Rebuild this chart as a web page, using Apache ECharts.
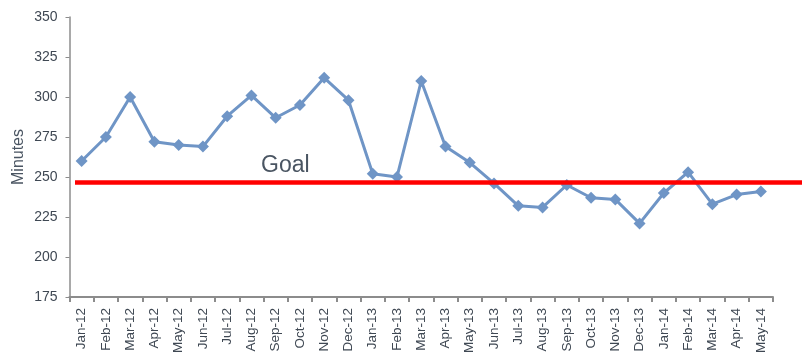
<!DOCTYPE html>
<html>
<head>
<meta charset="utf-8">
<script src="https://cdn.jsdelivr.net/npm/echarts@6/dist/echarts.min.js"></script>
<style>
  html, body { margin: 0; padding: 0; background: #fff; }
  #main { width: 802px; height: 356px; }
</style>
</head>
<body>
<div id="main"></div>
<script>
var months = ['Jan-12','Feb-12','Mar-12','Apr-12','May-12','Jun-12','Jul-12','Aug-12','Sep-12','Oct-12','Nov-12','Dec-12',
              'Jan-13','Feb-13','Mar-13','Apr-13','May-13','Jun-13','Jul-13','Aug-13','Sep-13','Oct-13','Nov-13','Dec-13',
              'Jan-14','Feb-14','Mar-14','Apr-14','May-14'];
var minutes = [260, 275, 300, 272, 270, 269, 288, 301, 287, 295, 312, 298,
               252, 250, 310, 269, 259, 246, 232, 231, 245, 237, 236, 221,
               240, 253, 233, 239, 241];
var goal = 247;
var goalSpan = [0, 1];

var myChart = echarts.init(document.getElementById('main'));
var font = 'Liberation Sans, Arial, sans-serif';
var axisGrey = '#8c8c8c';
var textGrey = '#3f4853';

var option = {
  animation: false,
  grid: [
    { left: 69.5, right: 29, top: 17, bottom: 58 },
    { left: 75, right: 0, top: 17, bottom: 58 }
  ],
  xAxis: [{
    type: 'category',
    data: months,
    gridIndex: 0,
    boundaryGap: true,
    axisLine: { lineStyle: { color: axisGrey, width: 2 } },
    axisTick: { show: true, length: 5, interval: 0, lineStyle: { color: axisGrey, width: 2 } },
    axisLabel: { interval: 0, rotate: 90, fontFamily: font, fontSize: 13.5, color: textGrey, margin: 11 }
  }, {
    type: 'value',
    gridIndex: 1,
    min: goalSpan[0],
    max: goalSpan[1],
    show: false
  }],
  yAxis: [{
    type: 'value',
    gridIndex: 0,
    min: 175,
    max: 350,
    interval: 25,
    name: 'Minutes',
    nameLocation: 'middle',
    nameGap: 43,
    nameMoveOverlap: false,
    nameTextStyle: { fontFamily: font, fontSize: 16, color: '#4a5562' },
    axisLine: { show: true, lineStyle: { color: axisGrey, width: 1.5 } },
    axisTick: { show: true, length: 4, lineStyle: { color: axisGrey } },
    splitLine: { show: false },
    axisLabel: { fontFamily: font, fontSize: 14, color: textGrey, margin: 12 }
  }, {
    type: 'value',
    gridIndex: 1,
    min: 175,
    max: 350,
    show: false
  }],
  graphic: [{
    type: 'text',
    left: 261,
    top: 154,
    style: { text: 'Goal', font: '23px ' + font, fill: '#4a5562' }
  }],
  series: [{
    name: 'Goal',
    type: 'line',
    xAxisIndex: 1,
    yAxisIndex: 1,
    data: [[goalSpan[0], goal], [goalSpan[1], goal]],
    symbol: 'none',
    lineStyle: { color: '#ff0000', width: 4.5 },
    z: 3
  }, {
    name: 'Minutes',
    type: 'line',
    xAxisIndex: 0,
    yAxisIndex: 0,
    data: minutes,
    symbol: 'diamond',
    symbolSize: 12,
    itemStyle: { color: '#6f95c6' },
    lineStyle: { color: '#6f95c6', width: 3 },
    z: 2
  }]
};
myChart.setOption(option);
</script>
</body>
</html>
